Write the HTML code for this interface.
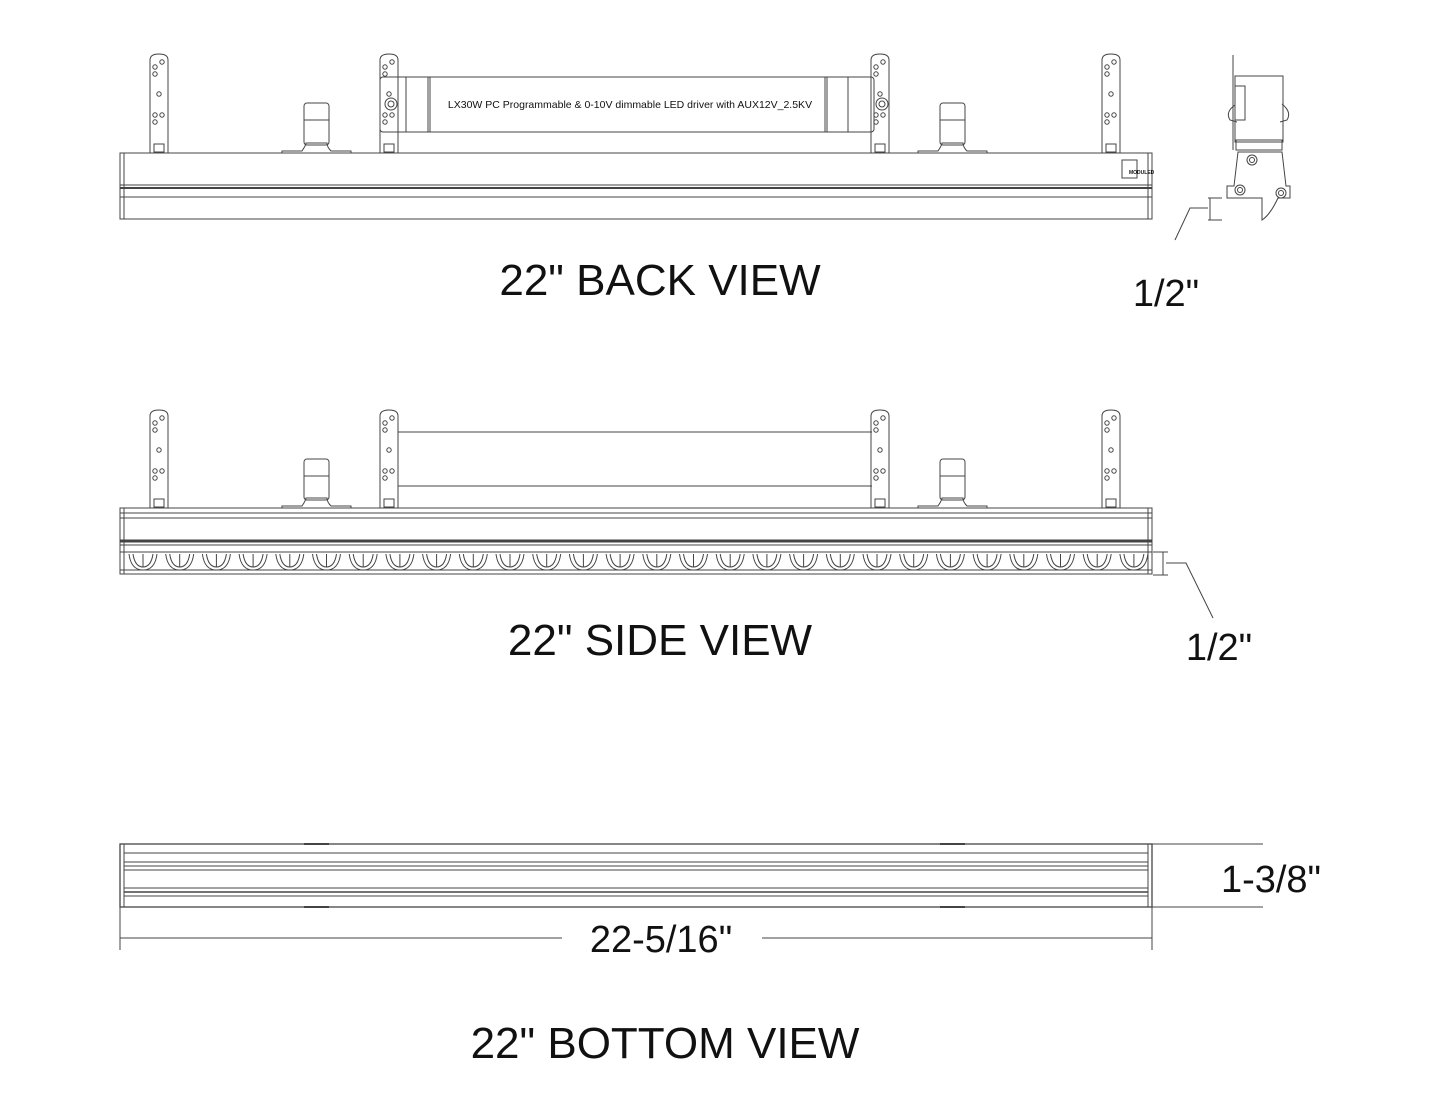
<!DOCTYPE html>
<html><head><meta charset="utf-8"><style>
html,body{margin:0;padding:0;background:#fff}
svg{display:block}
text{font-family:"Liberation Sans",sans-serif;fill:#111}
</style></head><body>
<svg id="s" width="1440" height="1113" viewBox="0 0 1440 1113" xmlns="http://www.w3.org/2000/svg">
<g fill="none" stroke="#444" stroke-width="1">
<!-- BACK VIEW bar -->
<rect x="120" y="153" width="1032" height="66"/>
<line x1="124" y1="153" x2="124" y2="219"/>
<line x1="1148" y1="153" x2="1148" y2="219"/>
<line x1="120" y1="185" x2="1152" y2="185"/>
<line x1="120" y1="188" x2="1152" y2="188" stroke-width="2"/>
<line x1="120" y1="197" x2="1152" y2="197"/>
<rect x="1122" y="160" width="15" height="18"/>
<!-- driver -->
<rect x="380" y="77" width="494" height="55" rx="3"/>
<line x1="406" y1="77" x2="406" y2="132"/><line x1="428" y1="77" x2="428" y2="132"/><line x1="430" y1="77" x2="430" y2="132"/>
<line x1="825" y1="77" x2="825" y2="132"/><line x1="827" y1="77" x2="827" y2="132"/><line x1="848" y1="77" x2="848" y2="132"/>
<circle cx="391" cy="104" r="6"/><circle cx="391" cy="104" r="3"/>
<circle cx="882" cy="104" r="6"/><circle cx="882" cy="104" r="3"/>
<!-- SIDE VIEW bar -->
<rect x="120" y="508" width="1032" height="66"/>
<line x1="124" y1="508" x2="124" y2="574"/>
<line x1="1148" y1="508" x2="1148" y2="574"/>
<line x1="120" y1="513" x2="1152" y2="513"/>
<line x1="120" y1="518" x2="1152" y2="518"/>
<line x1="120" y1="541" x2="1152" y2="541" stroke-width="3"/>
<line x1="120" y1="545" x2="1152" y2="545"/>
<line x1="120" y1="552" x2="1152" y2="552"/>
<line x1="120" y1="570" x2="1152" y2="570"/>
<line x1="398" y1="432" x2="872" y2="432"/>
<line x1="398" y1="486" x2="872" y2="486"/>
<!-- BOTTOM VIEW -->
<rect x="120" y="844" width="1032" height="63" stroke-width="1.3"/>
<line x1="124" y1="844" x2="124" y2="907"/>
<line x1="1148" y1="844" x2="1148" y2="907"/>
<line x1="124" y1="853" x2="1148" y2="853"/>
<line x1="124" y1="862" x2="1148" y2="862"/>
<line x1="124" y1="866" x2="1148" y2="866"/>
<line x1="124" y1="870" x2="1148" y2="870"/>
<line x1="124" y1="888" x2="1148" y2="888"/>
<line x1="124" y1="892" x2="1148" y2="892" stroke-width="1.6"/>
<line x1="124" y1="896" x2="1148" y2="896"/>
<line x1="120" y1="907" x2="120" y2="950"/>
<line x1="1152" y1="907" x2="1152" y2="950"/>
<line x1="120" y1="938" x2="562" y2="938"/>
<line x1="762" y1="938" x2="1152" y2="938"/>
<line x1="1152" y1="844" x2="1263" y2="844"/>
<line x1="1152" y1="907" x2="1263" y2="907"/>
<!-- dims 1/2 -->
<line x1="1163" y1="552" x2="1163" y2="575"/>
<line x1="1153" y1="552" x2="1168" y2="552"/>
<line x1="1153" y1="575" x2="1168" y2="575"/>
<polyline points="1166,563 1186,563 1213,618"/>
<line x1="1210" y1="198" x2="1210" y2="220"/>
<line x1="1208" y1="198" x2="1222" y2="198"/>
<line x1="1208" y1="220" x2="1222" y2="220"/>
<polyline points="1208,208 1190,208 1175,240"/>
<!-- end view -->
<line x1="1233" y1="55" x2="1233" y2="150"/>
<rect x="1235" y="76" width="48" height="66"/>
<rect x="1235" y="86" width="10" height="34"/>
<path d="M1235 105 Q1225 112 1230 120 L1237 122"/>
<path d="M1282 104 Q1292 112 1287 120 L1280 122"/>
<rect x="1236" y="140" width="46" height="10"/>
<path d="M1238 152 L1282 152 L1286 186 L1290 186 L1290 198 L1278 198 Q1270 215 1262 220 L1262 198 L1227 198 L1227 186 L1234 186 Z"/>
<circle cx="1252" cy="160" r="5"/><circle cx="1252" cy="160" r="2.5"/>
<circle cx="1240" cy="190" r="5"/><circle cx="1240" cy="190" r="2.5"/>
<circle cx="1281" cy="193" r="5"/><circle cx="1281" cy="193" r="2.5"/>
<g id="dyn"></g>
</g>
<text x="630" y="108" font-size="10.5" text-anchor="middle">LX30W PC Programmable &amp; 0-10V dimmable LED driver with AUX12V_2.5KV</text>
<text x="1129" y="174" font-size="5" font-weight="bold">MODULED</text>
<text x="660" y="295" font-size="44" text-anchor="middle">22" BACK VIEW</text>
<text x="660" y="655" font-size="44" text-anchor="middle">22" SIDE VIEW</text>
<text x="665" y="1058" font-size="44" text-anchor="middle">22" BOTTOM VIEW</text>
<text x="1166" y="306" font-size="38" text-anchor="middle">1/2"</text>
<text x="1219" y="660" font-size="38" text-anchor="middle">1/2"</text>
<text x="661" y="952" font-size="38" text-anchor="middle">22-5/16"</text>
<text x="1271" y="892" font-size="38" text-anchor="middle">1-3/8"</text>
</svg>
<script>
var g=document.getElementById('dyn'),h='';
function br(x,top,bot){h+='<path d="M'+x+' '+bot+' L'+x+' '+(top+6)+' Q'+x+' '+top+' '+(x+9)+' '+top+' Q'+(x+18)+' '+top+' '+(x+18)+' '+(top+6)+' L'+(x+18)+' '+bot+'"/>';
var hs=[[5,23],[12,18],[5,30],[9,50],[5,71],[12,71],[5,78]];hs.forEach(function(p){h+='<circle cx="'+(x+p[0])+'" cy="'+(top+p[1]-10)+'" r="2.2"/>';});
h+='<rect x="'+(x+4)+'" y="'+(bot-9)+'" width="10" height="8"/>';}
function cap(x,y,by){h+='<rect x="'+x+'" y="'+y+'" width="25" height="'+(by-y-8)+'" rx="3"/><line x1="'+x+'" y1="'+(y+17)+'" x2="'+(x+25)+'" y2="'+(y+17)+'"/><path d="M'+(x-22)+' '+by+' L'+(x-22)+' '+(by-2)+' L'+(x-2)+' '+(by-2)+' Q'+(x+2)+' '+(by-8)+' '+(x+2)+' '+(by-10)+' L'+(x+23)+' '+(by-10)+' Q'+(x+23)+' '+(by-6)+' '+(x+27)+' '+(by-2)+' L'+(x+47)+' '+(by-2)+' L'+(x+47)+' '+by+'"/>';}
[150,380,871,1102].forEach(function(x){br(x,54,153);br(x,410,508);});
[304,940].forEach(function(x){cap(x,103,153);cap(x,459,508);});
for(var i=0;i<28;i++){var x=129+i*36.7;h+='<path d="M'+x+' 554 Q'+(x+2)+' 570 '+(x+14)+' 570 Q'+(x+26)+' 570 '+(x+28)+' 554"/><path d="M'+(x+4)+' 554 Q'+(x+6)+' 567 '+(x+14)+' 567 Q'+(x+22)+' 567 '+(x+24)+' 554"/><line x1="'+(x+14)+'" y1="554" x2="'+(x+14)+'" y2="567"/>';}
[[304,844],[940,844],[304,907],[940,907]].forEach(function(p){h+='<line x1="'+p[0]+'" y1="'+p[1]+'" x2="'+(p[0]+25)+'" y2="'+p[1]+'" stroke-width="2"/>';});
g.innerHTML=h;
</script>
</body></html>
